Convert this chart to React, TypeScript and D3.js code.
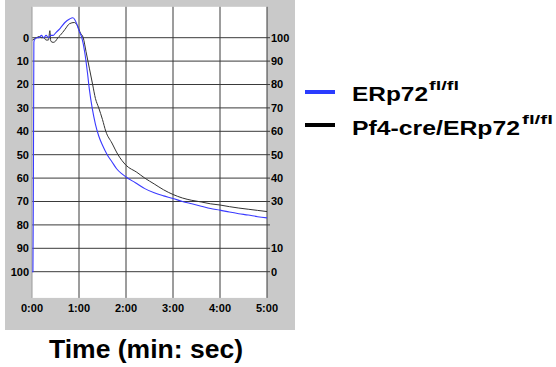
import * as d3 from 'd3';
import React from 'react';

// transmission (%): 0 at top, 100 at bottom
const timeTicks = ['0:00', '1:00', '2:00', '3:00', '4:00', '5:00'];
const leftTicks = [0, 10, 20, 30, 40, 50, 60, 70, 80, 90, 100];
const rightTicks = [100, 90, 80, 70, 60, 50, 40, 30, 10, 0];

// ERp72 fl/fl (blue)
const blueT = [0, 0.02, 0.03, 0.04, 0.05, 0.1, 0.15, 0.2, 0.25, 0.3, 0.35, 0.4, 0.45, 0.5, 0.6, 0.7, 0.8, 0.87, 0.95, 1.0, 1.06, 1.12, 1.18, 1.22, 1.28, 1.35, 1.42, 1.5, 1.6, 1.7, 1.8, 1.9, 2.0, 2.2, 2.4, 2.6, 2.8, 3.0, 3.2, 3.4, 3.6, 3.8, 4.0, 4.2, 4.4, 4.6, 4.8, 5.0];
const blueV = [100, 100, 60, 2, 1, 0, 0, -1, 0, -1, 0, -1, -1, -2, -4, -6.5, -8, -8.5, -6, -3, 0, 6, 15, 22, 30, 37, 42, 46, 50, 53, 56, 58, 59.5, 62, 64.5, 66.3, 67.6, 68.7, 70, 71, 72, 73, 73.7, 74.5, 75.2, 75.8, 76.5, 77];

// Pf4-cre/ERp72 fl/fl (black)
const blackT = [0.01, 0.05, 0.1, 0.15, 0.2, 0.25, 0.3, 0.35, 0.38, 0.4, 0.45, 0.5, 0.55, 0.6, 0.7, 0.8, 0.9, 0.97, 1.03, 1.09, 1.15, 1.22, 1.29, 1.35, 1.42, 1.5, 1.57, 1.7, 1.83, 2.0, 2.23, 2.4, 2.6, 2.8, 3.0, 3.2, 3.4, 3.6, 3.8, 4.0, 4.2, 4.4, 4.6, 4.8, 5.0];
const blackV = [1, 0.5, 0, -0.5, 0, 0, 1, 1, -3, 1.5, 2, 1.5, 0, -1, -3.5, -6, -6.5, -5, -2, 0, 6, 13, 20, 26, 30, 35, 40, 45, 50, 54.5, 57.5, 60, 62.5, 65, 67, 68.5, 69.5, 70.2, 71, 71.5, 72.2, 72.8, 73.3, 73.8, 74.3];

const font = 'Arial, "Liberation Sans", sans-serif';

export default function App() {
  const x = d3.scaleLinear([0, 5], [32, 267]);
  const yL = d3.scaleLinear([0, 100], [37.7, 271.7]);
  const yR = d3.scaleLinear([0, 100], [271.7, 37.7]);
  const top = yL(-13.2);
  const bottom = yL(111.2);

  const path = (ts: number[], vs: number[]) =>
    d3.line<number>().x(d => x(d)).y((d, i) => yL(vs[i])).curve(d3.curveMonotoneX)(ts) || '';

  return (
    <div style={{ position: 'absolute', left: 0, top: 0 }}>
      <svg width={556} height={367} style={{ display: 'block', fontFamily: font }}>
        <rect x={0} y={0} width={556} height={367} fill="#fff" />
        {/* grey panel */}
        <rect x={5} y={0} width={290} height={330} fill="#c9c9c9" />
        <rect x={x(0)} y={top} width={x(5) - x(0)} height={bottom - top} fill="#fff" />

        {/* horizontal grid */}
        {leftTicks.map(v => (
          <line key={'h' + v} x1={x(0)} x2={x(5) + 3} y1={yL(v)} y2={yL(v)} stroke="#3a3a3a" strokeWidth={1} />
        ))}
        {/* vertical grid */}
        {[1, 2, 3, 4].map(m => (
          <line key={'v' + m} x1={x(m)} x2={x(m)} y1={top} y2={bottom} stroke="#3a3a3a" strokeWidth={1} />
        ))}
        <line x1={x(5)} x2={x(5)} y1={top} y2={bottom} stroke="#3a3a3a" strokeWidth={1} />
        <line x1={x(0)} x2={x(0)} y1={top} y2={bottom} stroke="#9a9a9a" strokeWidth={1} />

        {/* data */}
        <path d={path(blackT, blackV)} fill="none" stroke="#333" strokeWidth={1} />
        <path d={path(blueT, blueV)} fill="none" stroke="#3a3aff" strokeWidth={1.1} />

        {/* left axis */}
        {leftTicks.map(v => (
          <text key={'l' + v} x={29} y={yL(v)} dy="0.35em" textAnchor="end" fontSize={11} fontWeight="bold">{v}</text>
        ))}
        {/* right axis */}
        {rightTicks.map(v => (
          <text key={'r' + v} x={271} y={yR(v)} dy="0.35em" textAnchor="start" fontSize={11} fontWeight="bold">{v}</text>
        ))}
        {/* time axis */}
        {timeTicks.map((t, i) => (
          <text key={t} x={x(i)} y={308} dy="0.35em" textAnchor="middle" fontSize={11} fontWeight="bold">{t}</text>
        ))}

        <text x={49} y={358} fontSize={25} fontWeight="bold" textLength={194} lengthAdjust="spacingAndGlyphs">Time (min: sec)</text>

        {/* legend */}
        <line x1={305} x2={335} y1={92} y2={92} stroke="#2a3cff" strokeWidth={4} />
        <text x={352} y={101} fontSize={20} fontWeight="bold" textLength={76} lengthAdjust="spacingAndGlyphs">ERp72</text>
        <text x={429} y={90} fontSize={12} fontWeight="bold" textLength={30} lengthAdjust="spacingAndGlyphs">fl/fl</text>
        <line x1={305} x2={335} y1={125} y2={125} stroke="#000" strokeWidth={4} />
        <text x={352} y={135} fontSize={20} fontWeight="bold" textLength={168} lengthAdjust="spacingAndGlyphs">Pf4-cre/ERp72</text>
        <text x={522} y={124} fontSize={12} fontWeight="bold" textLength={31} lengthAdjust="spacingAndGlyphs">fl/fl</text>
      </svg>
    </div>
  );
}
